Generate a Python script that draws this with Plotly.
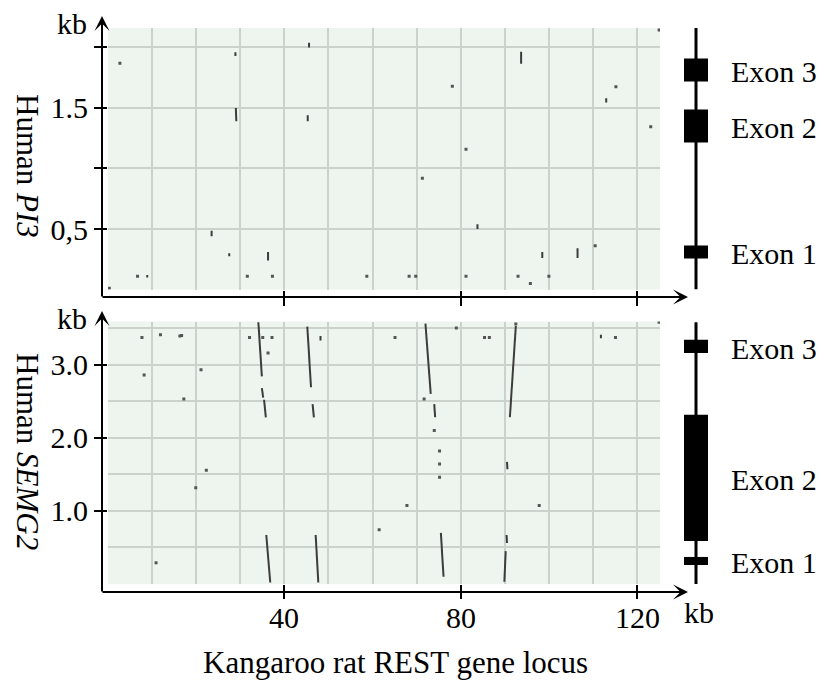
import plotly.graph_objects as go

W, H = 827, 682

# ---------------- data ----------------
# Top panel: Human PI3 (kb) vs Kangaroo rat REST locus (kb)
pi3_seg_x0 = [28.9, 29.0, 23.5, 36.3, 45.6, 45.3, 93.7, 113.0, 83.8, 98.5, 106.5, 8.9, 27.5]
pi3_seg_x1 = [28.9, 29.1, 23.5, 36.3, 45.6, 45.3, 93.7, 113.0, 83.8, 98.5, 106.5, 8.9, 27.5]
pi3_seg_y0 = [1.96, 1.50, 0.485, 0.31, 2.04, 1.44, 1.965, 1.58, 0.54, 0.31, 0.34, 0.12, 0.30]
pi3_seg_y1 = [1.93, 1.39, 0.44, 0.24, 2.00, 1.39, 1.865, 1.545, 0.50, 0.26, 0.26, 0.10, 0.275]
pi3_dot_x = [2.7, 6.7, 31.6, 37.3, 78.1, 81.2, 71.3, 58.7, 68.3, 69.8, 81.2, 115.2, 123.1,
             110.5, 93.0, 95.8, 100.0, 125.0, 0.3]
pi3_dot_y = [1.87, 0.11, 0.11, 0.11, 1.68, 1.16, 0.92, 0.11, 0.11, 0.11, 0.11, 1.676, 1.345,
             0.362, 0.11, 0.05, 0.11, 2.145, 0.01]

# Bottom panel: Human SEMG2 (kb)
semg2_seg_x0 = [34.1, 34.9, 35.4, 35.9, 45.2, 46.4, 47.1, 72.0, 74.0, 75.5, 92.5, 90.5, 90.4, 90.2, 48.2, 111.8]
semg2_seg_x1 = [34.9, 35.2, 35.8, 36.8, 46.05, 46.7, 47.7, 73.2, 74.2, 76.1, 91.15, 90.6, 90.5, 89.9, 48.2, 111.8]
semg2_seg_y0 = [3.58, 2.68, 2.52, 0.67, 3.52, 2.46, 0.67, 3.56, 2.46, 0.70, 3.53, 1.67, 0.67, 0.45, 3.39, 3.41]
semg2_seg_y1 = [2.84, 2.55, 2.28, 0.02, 2.69, 2.28, 0.02, 2.60, 2.28, 0.10, 2.28, 1.57, 0.56, 0.03, 3.33, 3.36]
semg2_dot_x = [7.7, 11.9, 16.3, 16.7, 8.2, 21.1, 17.2, 22.3, 19.9, 10.9, 32.1, 35.1, 37.2, 36.3,
               65.1, 79.0, 71.7, 74.0, 75.2, 75.2, 75.2, 67.8, 61.5, 85.4, 86.5, 92.5, 97.8, 115.1, 125.0]
semg2_dot_y = [3.37, 3.41, 3.39, 3.40, 2.86, 2.93, 2.53, 1.557, 1.316, 0.29, 3.37, 3.37, 3.37, 3.16,
               3.37, 3.50, 2.53, 2.10, 1.82, 1.64, 1.46, 1.075, 0.742, 3.37, 3.37, 3.556, 1.075, 3.37, 3.58]

# Gene structures (kb)
exon_names = ["Exon 1", "Exon 2", "Exon 3"]
pi3_exon_start = [0.256, 1.215, 1.719]
pi3_exon_end = [0.364, 1.488, 1.909]
pi3_gene_span = [0.0, 2.16]
semg2_exon_start = [0.26, 0.589, 3.16]
semg2_exon_end = [0.37, 2.315, 3.34]
semg2_gene_span = [0.0, 3.58]

# Axis ticks
x_ticks = [40, 80, 120]
x_ticktext = ["40", "80", "120"]
x_grid = [10, 20, 30, 50, 60, 70, 90, 100, 110]
pi3_yticks = [0.5, 1.0, 1.5, 2.0]
pi3_yticktext = ["0,5", "", "1.5", ""]
semg2_yticks = [1.0, 2.0, 3.0]
semg2_yticktext = ["1.0", "2.0", "3.0"]
semg2_ygrid = [0.5, 1.5, 2.5, 3.5]

X_RANGE = [0, 125.2]
PI3_RANGE = [0, 2.161]
SEMG2_RANGE = [0, 3.59]

# ---------------- helpers ----------------
def px(x):
    return x / W

def py(y):
    return 1 - y / H

def seg_xy(x0, x1, y0, y1):
    xs, ys = [], []
    for a, b, c, d in zip(x0, x1, y0, y1):
        xs += [a, b, None]
        ys += [c, d, None]
    return xs, ys

FONT = "Liberation Serif"
GREEN = "#EDF5EE"
GRID = "#CBD1CB"
LINE_C = "#3c3c3c"

fig = go.Figure()

# dot plot traces
for (sx0, sx1, sy0, sy1, dx, dy, xa, ya) in [
    (pi3_seg_x0, pi3_seg_x1, pi3_seg_y0, pi3_seg_y1, pi3_dot_x, pi3_dot_y, "x", "y"),
    (semg2_seg_x0, semg2_seg_x1, semg2_seg_y0, semg2_seg_y1, semg2_dot_x, semg2_dot_y, "x2", "y2"),
]:
    xs, ys = seg_xy(sx0, sx1, sy0, sy1)
    fig.add_trace(go.Scatter(x=xs, y=ys, mode="lines", line=dict(color=LINE_C, width=2),
                             xaxis=xa, yaxis=ya, showlegend=False, hoverinfo="skip"))
    fig.add_trace(go.Scatter(x=dx, y=dy, mode="markers",
                             marker=dict(symbol="square", size=3, color="#555555", line=dict(width=0)),
                             xaxis=xa, yaxis=ya, showlegend=False, hoverinfo="skip"))

# gene diagrams
for (st, en, span, xa, ya) in [
    (pi3_exon_start, pi3_exon_end, pi3_gene_span, "x3", "y3"),
    (semg2_exon_start, semg2_exon_end, semg2_gene_span, "x4", "y4"),
]:
    fig.add_trace(go.Scatter(x=[0, 0], y=span, mode="lines", line=dict(color="black", width=3),
                             xaxis=xa, yaxis=ya, showlegend=False, hoverinfo="skip"))
    fig.add_trace(go.Bar(x=[0] * len(st), y=[e - s for s, e in zip(st, en)], base=st, width=2,
                         marker=dict(color="black", line=dict(width=0)),
                         xaxis=xa, yaxis=ya, showlegend=False, hoverinfo="skip"))
    for name, s, e in zip(exon_names, st, en):
        fig.add_annotation(x=1, y=(s + e) / 2, xref=xa, yref=ya, text=name, showarrow=False,
                           xanchor="left", yanchor="middle", xshift=21, yshift=-2,
                           font=dict(family=FONT, size=30, color="black"))

# green backgrounds
for xa, ya in [("x", "y"), ("x2", "y2")]:
    fig.add_shape(type="rect", xref=f"{xa} domain", yref=f"{ya} domain", x0=0, x1=1, y0=0, y1=1,
                  fillcolor=GREEN, line=dict(width=0), layer="below")

tickfont = dict(family=FONT, size=30, color="black")
xd = [px(108), px(660)]
top_dom = [py(289.5), py(28)]
bot_dom = [py(584), py(321.5)]

common_x = dict(domain=xd, range=X_RANGE, tickmode="array", tickvals=x_ticks, ticktext=x_ticktext,
                showgrid=True, gridcolor=GRID, gridwidth=1.5, zeroline=False, showline=False,
                ticks="outside", tickwidth=2, tickcolor="black", tickfont=tickfont,
                showticklabels=False,
                minor=dict(tickmode="array", tickvals=x_grid, showgrid=True, gridcolor=GRID,
                           gridwidth=1.5, ticks=""))

fig.update_layout(
    width=W, height=H, margin=dict(l=0, r=0, t=0, b=0),
    paper_bgcolor="white", plot_bgcolor="rgba(0,0,0,0)",
    font=dict(family=FONT, size=30, color="black"),
    xaxis=dict(**common_x, anchor="y", ticklen=15),
    xaxis2=dict(**common_x, anchor="y2", ticklen=14),
    yaxis=dict(domain=top_dom, range=PI3_RANGE, anchor="x", tickmode="array", tickvals=pi3_yticks,
               ticktext=pi3_yticktext, showgrid=True, gridcolor=GRID, gridwidth=1.5, zeroline=False,
               ticks="outside", ticklen=13, tickwidth=2, tickcolor="black", tickfont=tickfont),
    yaxis2=dict(domain=bot_dom, range=SEMG2_RANGE, anchor="x2", tickmode="array", tickvals=semg2_yticks,
                ticktext=semg2_yticktext, showgrid=True, gridcolor=GRID, gridwidth=1.5, zeroline=False,
                ticks="outside", ticklen=13, tickwidth=2, tickcolor="black", tickfont=tickfont,
                minor=dict(tickmode="array", tickvals=semg2_ygrid, showgrid=True, gridcolor=GRID,
                           gridwidth=1.5, ticks="")),
    xaxis3=dict(domain=[px(684), px(708)], range=[-1, 1], anchor="y3", visible=False),
    yaxis3=dict(domain=top_dom, range=PI3_RANGE, anchor="x3", visible=False),
    xaxis4=dict(domain=[px(684), px(708)], range=[-1, 1], anchor="y4", visible=False),
    yaxis4=dict(domain=bot_dom, range=SEMG2_RANGE, anchor="x4", visible=False),
    showlegend=False,
)

# x tick labels of the bottom axis, placed at the axis' own data positions
for v, t in zip(x_ticks, x_ticktext):
    fig.add_annotation(x=v, y=py(617), xref="x2", yref="paper", text=t, showarrow=False,
                       xanchor="center", yanchor="middle", font=tickfont)

# axis lines with arrowheads (paper coordinates)
def arrow(hx, hy, tx, ty):
    fig.add_annotation(x=px(hx), y=py(hy), xref="paper", yref="paper", ax=tx - hx, ay=ty - hy,
                       axref="pixel", ayref="pixel", text="", showarrow=True, arrowhead=3,
                       arrowsize=1.25, arrowwidth=2, arrowcolor="black", standoff=0, startstandoff=0)

arrow(102, 16, 102, 298)
arrow(688, 297, 101, 297)
arrow(102, 311, 102, 593)
arrow(688, 592, 101, 592)

def label(x, y, text, angle=0, size=30, xanchor="center"):
    fig.add_annotation(x=px(x), y=py(y), xref="paper", yref="paper", text=text, showarrow=False,
                       textangle=angle, xanchor=xanchor, yanchor="middle",
                       font=dict(family=FONT, size=size, color="black"))

label(72, 24, "kb")
label(72, 318, "kb")
label(699, 612, "kb")
label(395, 662, "Kangaroo rat REST gene locus", size=31)
label(28, 166, "Human <i>PI3</i>", angle=90, size=31)
label(28, 451, "Human <i>SEMG2</i>", angle=90, size=31)

fig.write_html("out.html")
